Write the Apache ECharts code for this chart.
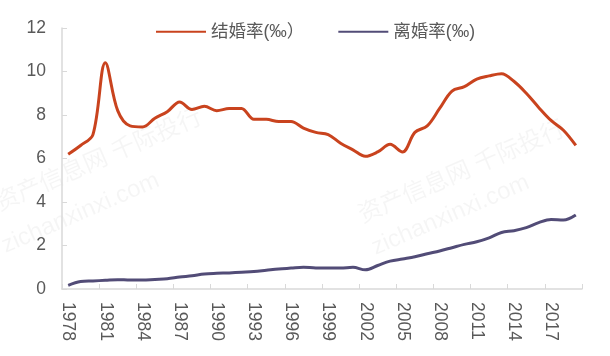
<!DOCTYPE html>
<html>
<head>
<meta charset="utf-8">
<script src="https://cdn.jsdelivr.net/npm/echarts@6/dist/echarts.min.js"></script>
<style>html,body{margin:0;padding:0;background:#fff;}#c{width:610px;height:356px;}</style>
</head>
<body>
<div id="c"></div>
<script>
const years = [];
for (let y = 1978; y <= 2019; y++) years.push(String(y));
const marriageRate = [6.2, 6.6, 7.1, 10.4, 8.2, 7.5, 7.45, 7.85, 8.15, 8.6, 8.25, 8.4, 8.2, 8.3, 8.3,
  7.8, 7.8, 7.7, 7.7, 7.4, 7.2, 7.1, 6.7, 6.4, 6.1, 6.3, 6.65, 6.3, 7.2, 7.5, 8.3, 9.1, 9.3,
  9.65, 9.8, 9.9, 9.55, 9.0, 8.35, 7.75, 7.3, 6.6];
const divorceRate = [0.17, 0.34, 0.37, 0.4, 0.43, 0.41, 0.41, 0.44, 0.47, 0.55, 0.61, 0.69, 0.72,
  0.74, 0.77, 0.8, 0.86, 0.92, 0.96, 1.0, 0.97, 0.97, 0.96, 1.0, 0.88, 1.08, 1.28, 1.38, 1.48,
  1.62, 1.75, 1.9, 2.05, 2.17, 2.35, 2.6, 2.68, 2.82, 3.05, 3.2, 3.17, 3.4];
const seriesNames = ['结婚率(‰）', '离婚率(‰)'];
const yTicks = [0, 2, 4, 6, 8, 10, 12];

const chart = echarts.init(document.getElementById('c'), null, {renderer: 'canvas'});
const wmStyle = {fill: 'rgba(0,0,0,0.04)', fontSize: 24, fontFamily: 'Liberation Sans, Noto Sans CJK SC'};
chart.setOption({
  animation: false,
  backgroundColor: '#fff',
  graphic: [
    {type: 'text', x: -8, y: 194, rotation: 0.41, silent: true, z: 0, style: Object.assign({text: '资产信息网 千际投行'}, wmStyle)},
    {type: 'text', x: -2, y: 236, rotation: 0.41, silent: true, z: 0, style: Object.assign({text: 'zichanxinxi.com'}, wmStyle)},
    {type: 'text', x: 355, y: 206, rotation: 0.41, silent: true, z: 0, style: Object.assign({text: '资产信息网 千际投行'}, wmStyle)},
    {type: 'text', x: 368, y: 238, rotation: 0.41, silent: true, z: 0, style: Object.assign({text: 'zichanxinxi.com'}, wmStyle)}
  ],
  legend: {
    top: 18,
    left: 151,
    itemWidth: 50,
    itemHeight: 14,
    itemGap: 34,
    icon: 'path://M0,6 L50,6 L50,8 L0,8 Z',
    textStyle: {fontSize: 17.5, color: '#595959', fontFamily: 'Liberation Sans, Noto Sans CJK SC'},
    data: seriesNames
  },
  grid: {left: 62, right: 28, top: 28, bottom: 67, containLabel: false},
  xAxis: {
    type: 'category',
    data: years,
    boundaryGap: true,
    axisLine: {lineStyle: {color: '#d9d9d9', width: 1.5}},
    axisTick: {show: true, inside: true, interval: 2, length: 5, lineStyle: {color: '#d9d9d9'}},
    axisLabel: {interval: 2, rotate: -90, fontSize: 17.5, color: '#595959', margin: 13, fontFamily: 'Liberation Sans'}
  },
  yAxis: {
    type: 'value',
    min: yTicks[0],
    max: yTicks[yTicks.length - 1],
    interval: 2,
    axisLine: {show: true, lineStyle: {color: '#d9d9d9', width: 1.5}},
    axisTick: {show: true, inside: true, length: 5, lineStyle: {color: '#d9d9d9'}},
    splitLine: {show: false},
    axisLabel: {fontSize: 17.5, color: '#595959', margin: 16, fontFamily: 'Liberation Sans'}
  },
  series: [
    {name: seriesNames[0], type: 'line', data: marriageRate, smooth: 0.35, showSymbol: false,
     lineStyle: {width: 3, color: '#C9431E'}, itemStyle: {color: '#C9431E'}, z: 3},
    {name: seriesNames[1], type: 'line', data: divorceRate, smooth: 0.35, showSymbol: false,
     lineStyle: {width: 3, color: '#524C77'}, itemStyle: {color: '#524C77'}, z: 3}
  ]
});
</script>
</body>
</html>
